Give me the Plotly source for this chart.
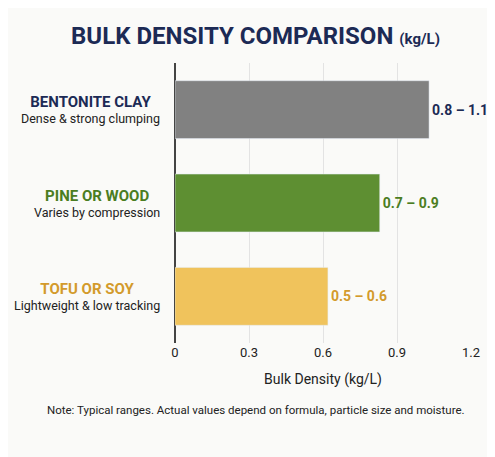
import plotly.graph_objects as go

# data
materials = ["BENTONITE CLAY", "PINE OR WOOD", "TOFU OR SOY"]
subtitles = ["Dense & strong clumping", "Varies by compression", "Lightweight & low tracking"]
densities = [1.03, 0.83, 0.62]
range_labels = ["0.8 – 1.1", "0.7 – 0.9", "0.5 – 0.6"]
bar_colors = ["#818181", "#5e8f32", "#f0c35c"]
label_colors = ["#1c2a55", "#4b7d22", "#d39a2c"]
tick_vals = [0, 0.3, 0.6, 0.9, 1.2]

fig = go.Figure(go.Bar(
    x=densities, y=materials, orientation="h",
    marker_color=bar_colors, width=0.62,
    text=[f"<b>{t}</b>" for t in range_labels], textposition="outside", cliponaxis=False,
    textfont=dict(size=14, color=label_colors, family="Roboto"),
))

# category labels on the left
for name, sub, col in zip(materials, subtitles, label_colors):
    fig.add_annotation(
        x=-0.045, xref="paper", y=name, yref="y", xanchor="right", align="center",
        showarrow=False,
        text=f"<b><span style='color:{col};font-size:15px'>{name}</span></b><br>"
             f"<span style='font-size:12.5px;color:#222'>{sub}</span>",
        font=dict(family="Roboto"),
    )

fig.add_annotation(
    x=(247.5 - 167) / 296, y=-0.27, xref="paper", yref="paper", xanchor="center",
    showarrow=False,
    text="Note: Typical ranges. Actual values depend on formula, particle size and moisture.",
    font=dict(size=11.5, color="#222", family="Roboto"),
)

fig.update_layout(
    width=495, height=457,
    title=dict(
        text="<b>BULK DENSITY COMPARISON</b> <span style='font-size:15px'><b>(kg/L)</b></span>",
        x=0.5, xanchor="center", y=0.94, yanchor="middle",
        font=dict(size=24, color="#1c2a55", family="Roboto"),
    ),
    plot_bgcolor="rgba(0,0,0,0)", paper_bgcolor="#fafaf8",
    margin=dict(l=167, r=32, t=55, b=122),
    showlegend=False,
    xaxis=dict(
        range=[0, 1.2], tickvals=tick_vals, ticktext=["0", "0.3", "0.6", "0.9", "1.2"],
        showgrid=True, gridcolor="#e3e3e3", zeroline=True, zerolinecolor="#444", zerolinewidth=1.5,
        title=dict(text="Bulk Density (kg/L)", font=dict(size=14, color="#222", family="Roboto")),
        tickfont=dict(size=13, color="#222", family="Roboto"),
    ),
    yaxis=dict(autorange="reversed", showticklabels=False, showgrid=False),
    font=dict(family="Roboto"),
)

fig.write_html("out.html")
